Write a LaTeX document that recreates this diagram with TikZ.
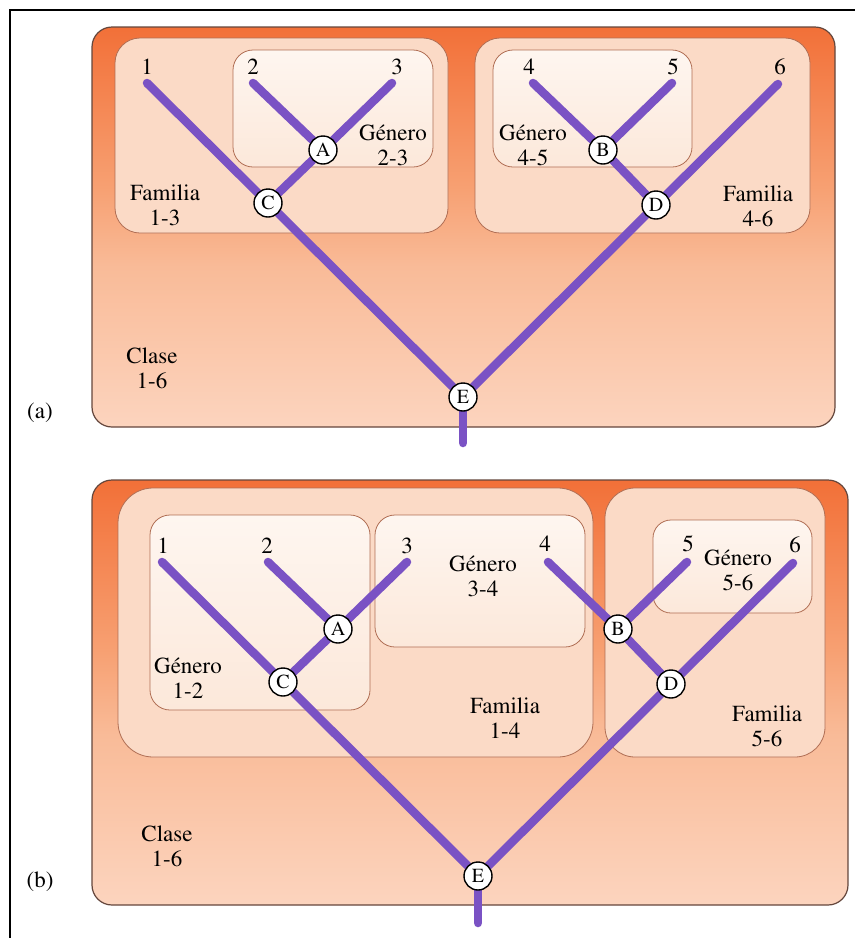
\documentclass[tikz,border=0pt]{standalone}
\usepackage[T1]{fontenc}
\usepackage{mathptmx}
\definecolor{purp}{RGB}{122,82,196}
\definecolor{ctop}{RGB}{242,112,56}
\definecolor{cmid}{RGB}{247,160,114}
\definecolor{cmid2}{RGB}{249,187,152}
\definecolor{cbot}{RGB}{252,212,190}
\definecolor{famfill}{RGB}{251,218,198}
\definecolor{gentop}{RGB}{254,246,240}
\definecolor{genbot}{RGB}{252,232,218}
\definecolor{boxline}{RGB}{176,110,84}
\definecolor{outl}{RGB}{100,70,60}
\pgfdeclareverticalshading{claseshade}{100bp}{color(0bp)=(cbot); color(25bp)=(cbot); color(45bp)=(cmid2); color(55bp)=(cmid); color(75bp)=(ctop); color(100bp)=(ctop)}
\pgfdeclarelayer{boxes}
\pgfdeclarelayer{lines}
\pgfsetlayers{boxes,lines,main}
\tikzset{
  lbl/.style={font=\fontsize{23}{25}\selectfont, align=center, inner sep=0pt, text=black},
  num/.style={font=\fontsize{23}{25}\selectfont, inner sep=0pt, text=black},
  hub/.style={circle, draw=black, line width=1.4pt, fill=white, minimum size=28pt, inner sep=0pt, font=\fontsize{20}{20}\selectfont},
  branch/.style={draw=purp, line width=8.5pt, line cap=round},
  clase/.style={draw=outl, line width=1.2pt, rounded corners=20pt, shade, shading=claseshade},
  fam/.style={draw=boxline, line width=0.8pt, fill=famfill},
  gen/.style={draw=boxline, line width=0.8pt, top color=gentop, bottom color=genbot},
}
\begin{document}
\begin{tikzpicture}[x=1pt,y=-1pt]
\useasboundingbox (0,0) rectangle (855,938);
\draw[line width=1.5pt] (10,938) -- (10,10) -- (855,10);

% ---------- panel (a) ----------
\begin{pgfonlayer}{boxes}
\path[clase] (92,27) rectangle (835,427);
\draw[fam, rounded corners=25pt] (115,38) rectangle (448,233);
\draw[gen, rounded corners=20pt] (233,50) rectangle (433,167);
\draw[fam, rounded corners=25pt] (475,38) rectangle (810,233);
\draw[gen, rounded corners=20pt] (493,50) rectangle (692,167);
\end{pgfonlayer}

\coordinate (a1) at (147,83);
\coordinate (a2) at (253,83);
\coordinate (a3) at (392,83);
\coordinate (a4) at (533,83);
\coordinate (a5) at (672,83);
\coordinate (a6) at (778,84);
\coordinate (aS) at (463,443);
\node[num] (la1) at (147,67) {1};
\node[num] (la2) at (253,67) {2};
\node[num] (la3) at (397,67) {3};
\node[num] (la4) at (529,67) {4};
\node[num] (la5) at (673,67) {5};
\node[num] (la6) at (780,67) {6};

\node[hub] (aA) at (323,150) {A};
\node[hub] (aB) at (603,150) {B};
\node[hub] (aC) at (268,203) {C};
\node[hub] (aD) at (656,205) {D};
\node[hub] (aE) at (463,397) {E};

\begin{pgfonlayer}{lines}
\draw[branch] (a1) -- (aC);
\draw[branch] (aC) -- (aE);
\draw[branch] (a2) -- (aA);
\draw[branch] (a3) -- (aA);
\draw[branch] (aA) -- (aC);
\draw[branch] (a4) -- (aB);
\draw[branch] (a5) -- (aB);
\draw[branch] (aB) -- (aD);
\draw[branch] (a6) -- (aD);
\draw[branch] (aD) -- (aE);
\draw[branch] (aE) -- (aS);
\end{pgfonlayer}

\node[lbl] (tfa13) at (165,205) {Familia\\1-3};
\node[lbl] (tga23) at (393,145) {G\'enero\\2-3};
\node[lbl] (tga45) at (533,145) {G\'enero\\4-5};
\node[lbl] (tfa46) at (758,206) {Familia\\4-6};
\node[lbl] (tca) at (152,368) {Clase\\1-6};
\node[lbl] (tpa) at (40,413) {(a)};

% ---------- panel (b) ----------
\begin{pgfonlayer}{boxes}
\path[clase] (92,480) rectangle (848,905);
\draw[fam, rounded corners=35pt] (118,488) rectangle (593,757);
\draw[gen, rounded corners=20pt] (150,515) rectangle (370,710);
\draw[gen, rounded corners=20pt] (375,515) rectangle (585,647);
\draw[fam, rounded corners=30pt] (605,488) rectangle (825,757);
\draw[gen, rounded corners=18pt] (653,520) rectangle (812,613);
\end{pgfonlayer}

\coordinate (b1) at (162,562);
\coordinate (b2) at (268,562);
\coordinate (b3) at (407,562);
\coordinate (b4) at (548,562);
\coordinate (b5) at (687,562);
\coordinate (b6) at (793,563);
\coordinate (bS) at (478,923);
\node[num] (lb1) at (163,546) {1};
\node[num] (lb2) at (267,546) {2};
\node[num] (lb3) at (407,546) {3};
\node[num] (lb4) at (545,544) {4};
\node[num] (lb5) at (688,544) {5};
\node[num] (lb6) at (795,545) {6};

\node[hub] (bA) at (338,629) {A};
\node[hub] (bB) at (618,629) {B};
\node[hub] (bC) at (283,682) {C};
\node[hub] (bD) at (671,684) {D};
\node[hub] (bE) at (478,876) {E};

\begin{pgfonlayer}{lines}
\draw[branch] (b1) -- (bC);
\draw[branch] (bC) -- (bE);
\draw[branch] (b2) -- (bA);
\draw[branch] (b3) -- (bA);
\draw[branch] (bA) -- (bC);
\draw[branch] (b4) -- (bB);
\draw[branch] (b5) -- (bB);
\draw[branch] (bB) -- (bD);
\draw[branch] (b6) -- (bD);
\draw[branch] (bD) -- (bE);
\draw[branch] (bE) -- (bS);
\end{pgfonlayer}

\node[lbl] (tgb12) at (188,678) {G\'enero\\1-2};
\node[lbl] (tgb34) at (483,576) {G\'enero\\3-4};
\node[lbl] (tfb14) at (505,718) {Familia\\1-4};
\node[lbl] (tgb56) at (738,570) {G\'enero\\5-6};
\node[lbl] (tfb56) at (767,726) {Familia\\5-6};
\node[lbl] (tcb) at (167,846) {Clase\\1-6};
\node[lbl] (tpb) at (40,882) {(b)};
\end{tikzpicture}
\end{document}
